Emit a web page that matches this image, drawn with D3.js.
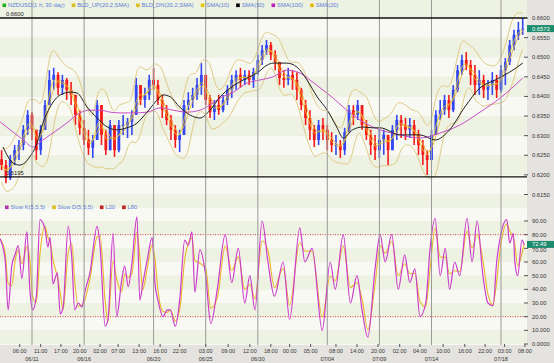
<!DOCTYPE html>
<html><head><meta charset="utf-8">
<script src="https://cdn.jsdelivr.net/npm/d3@7"></script>
<style>
html,body{margin:0;padding:0;background:#fff;}
svg{display:block;font-family:"Liberation Sans",Arial,sans-serif;}
</style></head><body>
<svg id="c" width="554" height="363"></svg>
<script>
// ---------- DATA (hours are trading hours counted from 06/11 00:00, weekends removed) ----------
const candleStartHour = -42;
const candleStepHours = 6;
const firstOpen = 0.6240;
const highs = [.6263,.6238,.6251,.6276,.6289,.6327,.6365,.6360,.6315,.6327,
 .6391,.6467,.6473,.6462,.6455,.6447,.6437,.6404,.6365,.6340,
 .6315,.6302,.6391,.6378,.6315,.6340,.6327,.6340,.6353,.6345,
 .6365,.6447,.6429,.6422,.6455,.6473,.6442,.6404,.6378,.6353,
 .6327,.6315,.6391,.6411,.6422,.6447,.6485,.6442,.6404,.6391,
 .6404,.6404,.6429,.6455,.6467,.6473,.6467,.6467,.6473,.6506,
 .6531,.6544,.6539,.6518,.6488,.6467,.6473,.6467,.6462,.6422,
 .6391,.6365,.6327,.6340,.6345,.6327,.6309,.6302,.6289,.6320,
 .6378,.6378,.6391,.6378,.6340,.6315,.6302,.6315,.6315,.6302,
 .6327,.6353,.6353,.6345,.6345,.6340,.6315,.6289,.6263,.6315,
 .6365,.6391,.6404,.6404,.6429,.6480,.6506,.6513,.6493,.6480,
 .6467,.6455,.6442,.6462,.6455,.6480,.6498,.6544,.6570,.6590,.6600];
const lows = [.6212,.6179,.6187,.6225,.6238,.6263,.6302,.6289,.6238,.6251,
 .6315,.6378,.6417,.6404,.6404,.6391,.6378,.6327,.6302,.6276,
 .6251,.6243,.6289,.6276,.6251,.6263,.6246,.6258,.6302,.6294,
 .6302,.6353,.6378,.6371,.6391,.6417,.6378,.6345,.6327,.6289,
 .6269,.6258,.6302,.6365,.6371,.6391,.6404,.6378,.6345,.6340,
 .6353,.6360,.6378,.6396,.6417,.6422,.6429,.6429,.6422,.6455,
 .6480,.6506,.6493,.6467,.6429,.6422,.6429,.6417,.6391,.6365,
 .6327,.6289,.6271,.6276,.6289,.6263,.6258,.6251,.6243,.6251,
 .6309,.6327,.6340,.6315,.6289,.6251,.6238,.6243,.6251,.6225,
 .6263,.6289,.6294,.6289,.6294,.6276,.6251,.6225,.6200,.6238,
 .6302,.6340,.6353,.6345,.6360,.6411,.6455,.6467,.6429,.6404,
 .6404,.6396,.6391,.6404,.6396,.6411,.6429,.6480,.6518,.6544,.6557];
const closes = [.6225,.6192,.6238,.6263,.6276,.6315,.6353,.6315,.6263,.6315,
 .6378,.6442,.6455,.6422,.6442,.6417,.6404,.6353,.6320,.6289,
 .6269,.6289,.6378,.6302,.6263,.6327,.6263,.6327,.6327,.6335,
 .6353,.6429,.6391,.6404,.6442,.6429,.6391,.6365,.6340,.6315,
 .6289,.6302,.6378,.6391,.6404,.6429,.6455,.6391,.6360,.6378,
 .6365,.6391,.6417,.6442,.6455,.6442,.6455,.6442,.6462,.6493,
 .6518,.6531,.6506,.6488,.6447,.6442,.6455,.6442,.6417,.6378,
 .6345,.6315,.6289,.6327,.6315,.6289,.6276,.6276,.6263,.6309,
 .6365,.6353,.6378,.6327,.6302,.6276,.6263,.6289,.6302,.6263,
 .6315,.6340,.6327,.6315,.6327,.6302,.6276,.6251,.6238,.6302,
 .6353,.6365,.6391,.6365,.6417,.6467,.6493,.6480,.6455,.6429,
 .6442,.6417,.6429,.6442,.6417,.6467,.6488,.6531,.6557,.6570,.6573];

const sma50Hours = [-40,-26,-17,-3,7,15,25,39,53,62,76,90,104,117,131,145,159,173,181,191,204,218,232,246,260,274,292,311,325,333,352,366,380,394,408,421,430,443,457,471,481,508,536,557,577,598,619,640,660,678];
const sma50 = [.6271,.6230,.6225,.6246,.6281,.6332,.6373,.6404,.6411,.6409,.6373,.6345,.6322,.6315,.6320,.6332,.6360,.6391,.6404,.6399,.6373,.6353,.6345,.6365,.6399,.6422,.6442,.6460,.6480,.6485,.6485,.6475,.6442,.6399,.6365,.6322,.6294,.6315,.6322,.6320,.6320,.6302,.6302,.6289,.6315,.6373,.6422,.6442,.6462,.6485];
const sma100Hours = [-44,-26,-12,1,15,29,48,66,80,94,108,122,140,159,177,195,214,232,246,260,278,297,315,333,352,370,384,398,416,435,453,471,481,508,536,564,591,619,647,678];
const sma100 = [.6335,.6309,.6289,.6271,.6289,.6307,.6332,.6358,.6365,.6365,.6360,.6358,.6358,.6360,.6371,.6365,.6360,.6365,.6378,.6396,.6411,.6434,.6442,.6450,.6467,.6460,.6442,.6422,.6396,.6365,.6340,.6322,.6315,.6302,.6294,.6307,.6327,.6360,.6396,.6447];

const stochHours = [-44,-37,-33,-28,-23,-19,-14,-7,-3,1,6,11,18,22,25,29,35,39,43,50,55,59,64,69,73,80,90,94,101,105,112,117,124,128,133,138,145,149,153,159,166,170,174,181,187,191,198,204,211,216,221,225,232,
 240,247,256,267,276,285,294,301,308,318,326,335,347,356,370,377,387,401,412,419,430,440,449,456,464,474,481,488,497,506,515,522,529,536,544,550,557,564,571,577,584,591,601,608,615,623,630,637,642,647,656,660,665,667,671,677,680];
const slowK = [77,61,25,57,66,72,48,82,40,25,35,91,84,71,78,44,52,22,27,86,63,25,30,27,38,52,86,72,13,18,81,20,47,57,42,59,93,32,44,61,78,44,32,20,25,25,13,32,76,72,82,38,69,
 50,15,40,80,45,70,30,50,25,90,60,35,60,18,85,60,70,10,60,40,80,30,50,25,5,55,80,60,80,40,65,45,55,20,30,70,92,50,70,40,60,50,92,60,90,50,30,28,60,78,91,74,81,61,50,76,72.49];

const priceTicks = [0.6600,0.6550,0.6500,0.6450,0.6400,0.6350,0.6300,0.6250,0.6200,0.6150];
const stochTicks = [90,80,70,60,50,40,30,20,10,0];
const stochTickLabels = ["90.00","80.00","70.00","60.00","50.00","40.00","30.00","20.00","10.000","0.0000"];
const timeTickHours = [-17,12,40,66,94,119,148,177,204,240,271,301,330,356,385,420,449,478,508,536,568,598,626,653,681];
const timeTickLabels = ["06:00","11:00","17:00","20:00","02:00","07:00","13:00","16:00","22:00","03:00","09:00","12:00","18:00","00:00","05:00","08:00","14:00","20:00","02:00","04:00","10:00","16:00","22:00","03:00","08:00"];
const dayLineHours = [0,72,168,240,312,408,480,552,648];
const dayLabels = ["06/11","06/16","06/20","06/25","06/30","07/04","07/09","07/14","07/18"];
const hiLoLines = [0.6600, 0.6195];
const hiLoLabels = ["0.6600","0.6195"];
const lastPrice = 0.6573, lastStoch = 72.49;
const levelLines = [80, 20];
const legendTop = [
  {t:"NZDUSD(1 h, 30 day)", c:"#20b020"},
  {t:"BLD_UP(20,2,SMA)", c:"#d8c020"},
  {t:"BLD_DN(20,2,SMA)", c:"#d8c020"},
  {t:"SMA(10)", c:"#e8c800"},
  {t:"SMA(50)", c:"#000000"},
  {t:"SMA(100)", c:"#c020c0"},
  {t:"SMA(20)", c:"#e8b800"}];
const legendLow = [
  {t:"Slow K(5,5,5)", c:"#b030b0"},
  {t:"Slow D(5,5,5)", c:"#d8c020"},
  {t:"L20", c:"#c02020"},
  {t:"L80", c:"#c02020"}];

// ---------- LAYOUT ----------
const svg = d3.select("#c");
const plotR = 527, upTop = 0, upBot = 199, loTop = 199, loBot = 345;
const x = d3.scaleLinear().domain([0, 648]).range([32, 501]);
const yP = d3.scaleLinear().domain([0.615, 0.660]).range([194.5, 18]);
const yS = d3.scaleLinear().domain([0, 90]).range([344, 221]);
const bandA = "#f8f9f2", bandB = "#eef2e3";

svg.append("rect").attr("width",554).attr("height",363).attr("fill","#e5e3df");

const defs = svg.append("defs");
defs.append("clipPath").attr("id","cu").append("rect").attr("x",0).attr("y",upTop).attr("width",plotR).attr("height",upBot-upTop);
defs.append("clipPath").attr("id","cl").append("rect").attr("x",0).attr("y",loTop).attr("width",plotR).attr("height",loBot-loTop);

const gU = svg.append("g").attr("clip-path","url(#cu)");
const gL = svg.append("g").attr("clip-path","url(#cl)");

d3.range(-2, 12).forEach(k => {
  const a = 0.605 + k*0.005;
  gU.append("rect").attr("x",0).attr("width",plotR)
    .attr("y", yP(a+0.005)).attr("height", yP(a)-yP(a+0.005))
    .attr("fill", (k%2===0)? bandA : bandB);
});
d3.range(-2, 12).forEach(k => {
  const a = k*10;
  gL.append("rect").attr("x",0).attr("width",plotR)
    .attr("y", yS(a+10)).attr("height", yS(a)-yS(a+10))
    .attr("fill", (k%2===0)? bandB : bandA);
});

svg.append("g").selectAll("line").data(dayLineHours).join("line")
  .attr("x1",d=>x(d)).attr("x2",d=>x(d)).attr("y1",0).attr("y2",loBot)
  .attr("stroke","#999").attr("stroke-width",1);

// candles
const candles = closes.map((c,i)=>({
  t: candleStartHour + i*candleStepHours,
  o: i? closes[i-1] : firstOpen, c, h: highs[i], l: lows[i]}));
const up = "#3346f2", dn = "#f41a1a";
const cg = gU.append("g");
cg.selectAll("line").data(candles).join("line")
  .attr("x1",d=>x(d.t)).attr("x2",d=>x(d.t))
  .attr("y1",d=>yP(d.h)).attr("y2",d=>yP(d.l))
  .attr("stroke",d=>d.c>=d.o?up:dn).attr("stroke-width",1.6);
cg.selectAll("rect").data(candles).join("rect")
  .attr("x",d=>x(d.t)-1.4).attr("width",2.8)
  .attr("y",d=>yP(Math.max(d.o,d.c)))
  .attr("height",d=>Math.max(1,Math.abs(yP(d.o)-yP(d.c))))
  .attr("fill",d=>d.c>=d.o?up:dn);

// indicators derived from the candles
const win = (arr,n,i)=>arr.slice(Math.max(0,i-n+1),i+1);
const sma10 = closes.map((_,i)=>d3.mean(win(closes,2,i)));
const mid = closes.map((_,i)=>d3.mean(win(closes,3,i)));
const sd = closes.map((_,i)=>{
  const v = [].concat(win(highs,3,i), win(lows,3,i), win(closes,3,i));
  const m = d3.mean(v); return Math.sqrt(d3.mean(v,q=>(q-m)*(q-m)));
});
const bbUp = mid.map((m,i)=>m+2*sd[i]);
const bbDn = mid.map((m,i)=>m-2*sd[i]);
const tH = i => candleStartHour + i*candleStepHours;
const lineP = d3.line().x((d,i)=>x(tH(i))).y(d=>yP(d)).curve(d3.curveBasis);
gU.append("path").attr("d",lineP(bbUp)).attr("fill","none").attr("stroke","#dcc478").attr("stroke-width",0.9);
gU.append("path").attr("d",lineP(bbDn)).attr("fill","none").attr("stroke","#dcc478").attr("stroke-width",0.9);
gU.append("path").attr("d",lineP(mid)).attr("fill","none").attr("stroke","#e8b030").attr("stroke-width",0.8);
gU.append("path").attr("d",lineP(sma10)).attr("fill","none").attr("stroke","#eed020").attr("stroke-width",0.8);

const lineXY = d3.line().x(d=>x(d[0])).y(d=>yP(d[1])).curve(d3.curveMonotoneX);
gU.append("path").attr("d",lineXY(sma100Hours.map((h,i)=>[h,sma100[i]])))
  .attr("fill","none").attr("stroke","#c84cc8").attr("stroke-width",1);
gU.append("path").attr("d",lineXY(sma50Hours.map((h,i)=>[h,sma50[i]])))
  .attr("fill","none").attr("stroke","#202020").attr("stroke-width",1);

hiLoLines.forEach((v,i)=>{
  svg.append("line").attr("x1",0).attr("x2",plotR).attr("y1",yP(v)).attr("y2",yP(v))
    .attr("stroke","#111").attr("stroke-width",1.4);
  svg.append("text").attr("x",6).attr("y",yP(v)-2).text(hiLoLabels[i])
    .attr("font-size",5.8).attr("fill","#222");
});

// stochastic: Slow D = moving average of Slow K over the preceding hours
const kAt = t => {
  if (t <= stochHours[0]) return slowK[0];
  const j = d3.bisectLeft(stochHours, t);
  const t0 = stochHours[j-1], t1 = stochHours[j];
  return slowK[j-1] + (slowK[j]-slowK[j-1])*(t-t0)/(t1-t0);
};
const kPts = stochHours.map((h,i)=>[h,slowK[i]]);
const dPts = stochHours.map(h=>[h, d3.mean([0,1.5,3,4.5], s=>kAt(h-s))]);
const lineS = d3.line().x(d=>x(d[0])).y(d=>yS(d[1])).curve(d3.curveMonotoneX);
levelLines.forEach(v=>{
  gL.append("line").attr("x1",0).attr("x2",plotR).attr("y1",yS(v)).attr("y2",yS(v))
    .attr("stroke","#d03030").attr("stroke-width",0.9).attr("stroke-dasharray","1,1.5");
});
gL.append("path").attr("d",lineS(dPts)).attr("fill","none").attr("stroke","#e8b828").attr("stroke-width",1.1);
gL.append("path").attr("d",lineS(kPts)).attr("fill","none").attr("stroke","#cc3ccc").attr("stroke-width",1.2);

// right axes
const ra = svg.append("g");
priceTicks.forEach(v=>{
  ra.append("line").attr("x1",524).attr("x2",528).attr("y1",yP(v)).attr("y2",yP(v)).attr("stroke","#555");
  ra.append("text").attr("x",532).attr("y",yP(v)+2).text(v.toFixed(4)).attr("font-size",5.8).attr("fill","#333");
});
stochTicks.forEach((v,i)=>{
  ra.append("line").attr("x1",524).attr("x2",528).attr("y1",yS(v)).attr("y2",yS(v)).attr("stroke","#555");
  ra.append("text").attr("x",532).attr("y",yS(v)+2 + (v===70?1.5:0)).text(stochTickLabels[i]).attr("font-size",5.8).attr("fill","#333");
});
[[yP(lastPrice), lastPrice.toFixed(4)],[yS(lastStoch)-0.5, lastStoch.toFixed(2)]].forEach(([yy,t])=>{
  ra.append("rect").attr("x",527).attr("y",yy-3.5).attr("width",27).attr("height",7).attr("fill","#1c8a6c");
  ra.append("text").attr("x",532).attr("y",yy+2).text(t).attr("font-size",5.8).attr("fill","#fff");
});

// bottom axis
const ba = svg.append("g");
timeTickHours.forEach((h,i)=>{
  ba.append("line").attr("x1",x(h)).attr("x2",x(h)).attr("y1",344).attr("y2",347).attr("stroke","#555");
  ba.append("text").attr("x",x(h)).attr("y",353).attr("text-anchor","middle").text(timeTickLabels[i])
    .attr("font-size",5.5).attr("fill","#333");
});
dayLineHours.forEach((h,i)=>{
  ba.append("text").attr("x",x(h)).attr("y",360.5).attr("text-anchor","middle").text(dayLabels[i])
    .attr("font-size",5.5).attr("fill","#333");
});

function legend(items, x0, y0, gap){
  let cx = x0;
  items.forEach(it=>{
    svg.append("rect").attr("x",cx).attr("y",y0-3.5).attr("width",3.6).attr("height",3.6).attr("fill",it.c);
    const t = svg.append("text").attr("x",cx+5.5).attr("y",y0).text(it.t).attr("font-size",5.8).attr("fill","#5a7ed6");
    cx += 5.5 + t.node().getComputedTextLength() + gap;
  });
}
legend(legendTop, 2.5, 7, 7);
legend(legendLow, 5, 209, 7);
</script>
</body></html>
